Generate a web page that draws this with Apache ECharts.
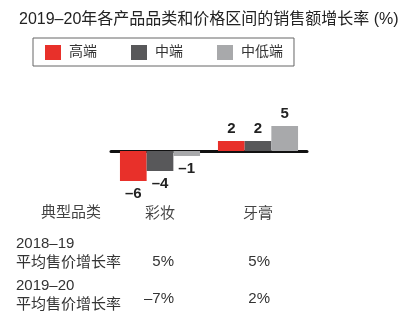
<!DOCTYPE html>
<html><head><meta charset="utf-8">
<script src="https://cdn.jsdelivr.net/npm/echarts@6/dist/echarts.min.js"></script>
<style>html,body{margin:0;padding:0;background:#fff;}#c{width:406px;height:316px;}</style>
</head><body><div id="c"></div>
<script>
var titleText = '2019–20年各产品品类和价格区间的销售额增长率 (%)';
var categories = ['彩妆', '牙膏'];
var seriesNames = ['高端', '中端', '中低端'];
var highEnd = [-6, 2];
var midEnd = [-4, 2];
var midLowEnd = [-1, 5];
var tableHeader = '典型品类';
var rowLabels = ['2018–19\n平均售价增长率', '2019–20\n平均售价增长率'];
var priceGrowth1819 = ['5%', '5%'];
var priceGrowth1920 = ['–7%', '2%'];

var colors = ['#e8302a', '#58585a', '#a8a9ab'];
var FONT = '"Liberation Sans", "Noto Sans CJK SC", sans-serif';
var chart = echarts.init(document.getElementById('c'));

function mkSeries(name, data, color) {
  return {
    name: name, type: 'bar', data: data.map(function (v) {
      return { value: v, label: { position: v < 0 ? 'bottom' : 'top' } };
    }),
    barWidth: 26.7, barGap: '0%',
    itemStyle: { color: color },
    label: {
      show: true, distance: 5, fontSize: 15, fontWeight: 'bold', color: '#222', fontFamily: FONT,
      formatter: function (p) { return String(p.value).replace('-', '–'); }
    },
    silent: true, animation: false
  };
}

var tableRows = [rowLabels[0], rowLabels[1]];
var rowVals = [priceGrowth1819, priceGrowth1920];
var rowY = [243, 285];
var valY = [262, 299];
var colRight = [174, 270];
var graphics = [{
  type: 'text', left: 41, top: 205,
  style: { text: tableHeader, font: '15px ' + FONT, fill: '#444' }
}];
tableRows.forEach(function (lbl, i) {
  graphics.push({
    type: 'text', left: 16, top: rowY[i] - 9,
    style: { text: lbl, font: '15px ' + FONT, fill: '#333', lineHeight: 19 }
  });
  rowVals[i].forEach(function (v, j) {
    graphics.push({
      type: 'text', x: colRight[j], y: valY[i],
      style: { text: v, font: '15px ' + FONT, fill: '#333', align: 'right', verticalAlign: 'middle' }
    });
  });
});

chart.setOption({
  animation: false,
  title: {
    text: titleText, left: 14, top: 7,
    textStyle: { fontSize: 16, fontWeight: 'normal', color: '#222', fontFamily: FONT }
  },
  legend: {
    data: seriesNames, left: 33, top: 38, padding: [7, 11, 6, 12],
    itemWidth: 16, itemHeight: 15, itemGap: 34,
    borderColor: '#666', borderWidth: 1, borderRadius: 0,
    textStyle: { fontSize: 14, color: '#333', fontFamily: FONT, padding: [0, 0, 0, 3] },
    icon: 'rect', selectedMode: false
  },
  grid: { left: 111, right: 99, top: 121, bottom: 135 },
  xAxis: [{
    type: 'category', data: categories,
    axisLine: { onZero: true, lineStyle: { color: '#111', width: 3 } },
    axisTick: { show: false }, axisLabel: { show: false }
  }, {
    type: 'category', data: categories, position: 'bottom',
    axisLine: { show: false }, axisTick: { show: false },
    axisLabel: { margin: 25, fontSize: 15, color: '#444', fontFamily: FONT }
  }],
  yAxis: { type: 'value', min: -6, max: 6, show: false, splitLine: { show: false } },
  series: [
    mkSeries(seriesNames[0], highEnd, colors[0]),
    mkSeries(seriesNames[1], midEnd, colors[1]),
    mkSeries(seriesNames[2], midLowEnd, colors[2])
  ],
  graphic: graphics
});
</script></body></html>
